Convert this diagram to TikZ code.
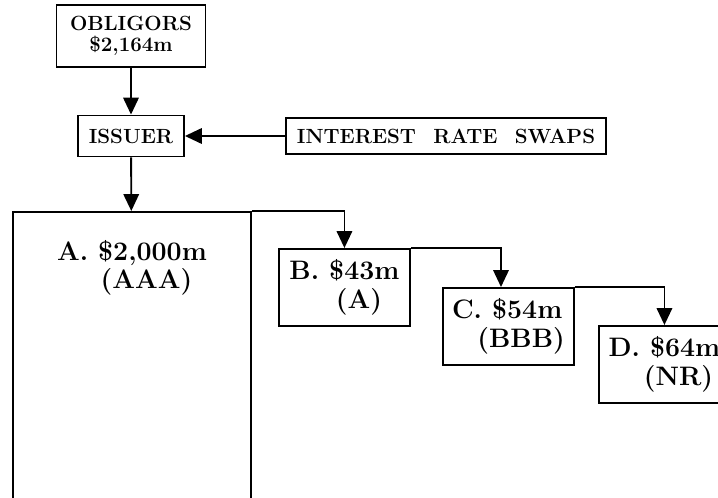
\documentclass[tikz,border=0pt]{standalone}
\usetikzlibrary{arrows.meta,positioning}
\tikzset{%
  box/.style={draw, line width=1.3pt, inner sep=0pt, align=center,
              font=\fontsize{14.6}{14.5}\selectfont\bfseries},
  tranche/.style={draw, line width=1.3pt, inner sep=0pt, anchor=north west, align=left,
              minimum width=93.2pt, minimum height=54.8pt,
              font=\fontsize{19}{20.5}\selectfont\bfseries},
  arr/.style={-{Triangle[length=12pt, width=11pt]}, line width=1.3pt},
}

\begin{document}
\begin{tikzpicture}[x=0.025cm, y=-0.025cm]
    \useasboundingbox (0,0) rectangle (718,498);
    \clip (0,0) rectangle (718,498);

    % top of the structure
    \node (obl) [box, minimum width=106pt, minimum height=44pt] at (131,36) {OBLIGORS\\\$2,164m};
    \node (iss) [box, minimum width=75.4pt, minimum height=29.2pt] at (131,136) {ISSUER};
    \node (irs) [box, minimum width=227.6pt, minimum height=25.6pt] at (446,136)
        {INTEREST\hspace{0.85em}RATE\hspace{0.85em}SWAPS};

    % tranches
    \node (A) [tranche, minimum width=169.3pt, minimum height=230pt] at (12,211) {};
    \node (Atxt) [below=20.5pt of A.north, font=\fontsize{19}{20.5}\selectfont\bfseries,
        align=left, inner sep=0pt] {A. \$2,000m\\\hspace*{31pt}(AAA)};
    \node (B) [tranche] at (278,248) {B. \$43m\\\hspace*{33pt}(A)};
    \node (C) [tranche] at (442,287) {C. \$54m\\\hspace*{18pt}(BBB)};
    \node (D) [tranche] at (598,325) {D. \$64m\\\hspace*{25pt}(NR)};
    \coordinate (Cin) at (501,287);

    % flows
    \draw[arr] (obl) -- (iss);
    \draw[arr] (irs) -- (iss);
    \draw[arr] (iss) -- (A);
    \draw[arr] (A.north east) -| (B);
    \draw[arr] (B.north east) -| (Cin);
    \draw[arr] (C.north east) -| (D);
\end{tikzpicture}
\end{document}
